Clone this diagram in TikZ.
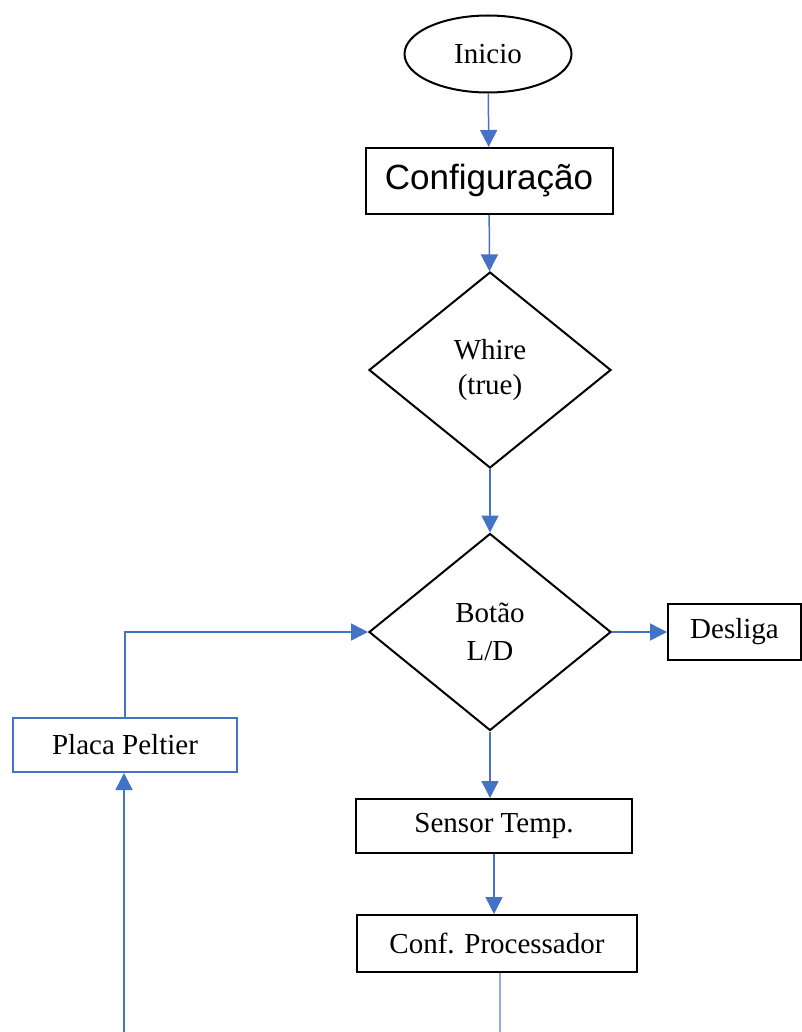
\documentclass[tikz,border=0pt]{standalone}
\usepackage{fontspec}
\setmainfont{Liberation Serif}
\newfontfamily\arialfont{Liberation Sans}
\usetikzlibrary{shapes.geometric,arrows.meta,positioning}
\definecolor{linkblue}{RGB}{68,114,196}

\tikzset{
  flowbox/.style={draw, line width=1pt, inner sep=0pt, font=\fontsize{14.5}{17}\selectfont},
  startnode/.style={ellipse, draw, line width=1pt, inner sep=0pt, font=\fontsize{14.5}{17}\selectfont},
  decision/.style={diamond, draw, line width=1pt, inner sep=0pt, align=center,
    minimum width=121pt, minimum height=98pt, font=\fontsize{14.5}{17}\selectfont},
  flowarrow/.style={-{Triangle[width=8.5pt,length=8.5pt]}, linkblue, line width=0.75pt}
}

\begin{document}
\begin{tikzpicture}[x=0.5pt, y=-0.5pt]
    \useasboundingbox (0,0) rectangle (802,1032);

    \node[startnode, minimum width=83.5pt, minimum height=38.5pt] at (488, 54) (inicio) {Inicio};
    \node[flowbox, minimum width=123.5pt, minimum height=33pt, font=\arialfont\fontsize{17.5}{20}\selectfont] at (489, 181) (config) {Configuração};
    \node[decision] at (490, 370) (whire) {Whire\\[0.5pt](true)\rule[-3pt]{0pt}{0pt}};
    \node[decision, minimum height=98.5pt] at (490, 632) (botao) {Botão\\[2pt]L/D};
    \node[flowbox, minimum width=66.5pt, minimum height=28pt] at (734.5, 632) (desliga) {Desliga};
    \node[flowbox, draw=linkblue, minimum width=112pt, minimum height=27pt] at (125, 745) (peltier) {Placa Peltier};
    \node[flowbox, minimum width=138pt, minimum height=27pt] at (494, 826) (sensor) {Sensor Temp.};
    \node[flowbox, minimum width=140pt, minimum height=28.5pt] at (497, 943.5) (proc) {Conf. Processador};

    \coordinate (feedin) at (124, 1032);
    \coordinate (procout) at (500, 1032);

    % main flow
    \draw[flowarrow] (inicio) -- (config);
    \draw[flowarrow] (config) -- (whire);
    \draw[flowarrow] (whire.south) -- (botao.north);
    \draw[flowarrow] (botao.east) -- (desliga.west);
    \draw[flowarrow] (botao.south) -- (botao.south |- sensor.north);
    \draw[flowarrow] (sensor.south) -- (sensor.south |- proc.north);
    \draw[linkblue!60, line width=0.75pt] (proc.south -| procout) -- (procout);

    % feedback
    \draw[flowarrow] (feedin) -- (feedin |- peltier.south);
    \draw[flowarrow] (peltier.north) |- (botao.west);
\end{tikzpicture}
\end{document}
